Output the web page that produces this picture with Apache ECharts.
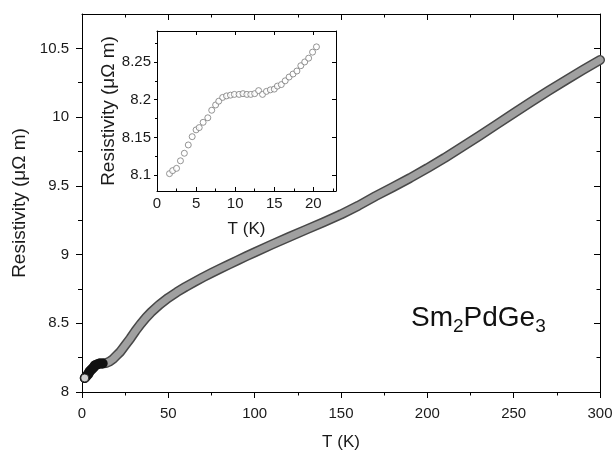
<!DOCTYPE html>
<html>
<head>
<meta charset="utf-8">
<script src="https://cdn.jsdelivr.net/npm/echarts@6/dist/echarts.min.js"></script>
<style>
html,body{margin:0;padding:0;background:#fff;}
#chart{width:616px;height:456px;}
</style>
</head>
<body>
<div id="chart"></div>
<script>
// ---- Data ----
// Main curve: temperature (K) and resistivity (µΩ m)
var mainT = [1.6, 2.5, 3.5, 4.5, 5.5, 6.5, 7.5, 8.5, 10, 12, 14, 16, 18, 20, 22, 25, 28, 31, 34, 37, 40, 45, 50, 55, 60, 65, 70, 75, 80, 85, 90, 95, 100, 110, 120, 130, 140, 150, 160, 170, 180, 190, 200, 210, 220, 230, 240, 250, 260, 270, 280, 290, 300];
var mainR = [8.102, 8.109, 8.129, 8.151, 8.165, 8.176, 8.194, 8.203, 8.207, 8.208, 8.211, 8.222, 8.240, 8.265, 8.29, 8.34, 8.39, 8.445, 8.495, 8.54, 8.58, 8.637, 8.685, 8.727, 8.765, 8.80, 8.834, 8.866, 8.897, 8.927, 8.957, 8.987, 9.016, 9.073, 9.128, 9.182, 9.236, 9.292, 9.355, 9.425, 9.49, 9.557, 9.628, 9.703, 9.782, 9.862, 9.945, 10.028, 10.11, 10.19, 10.267, 10.342, 10.415];
// Inset: low-temperature detail
var insetT = [1.6, 2.0, 2.5, 3.0, 3.5, 4.0, 4.5, 5.0, 5.4, 5.9, 6.5, 7.0, 7.5, 7.9, 8.4, 8.9, 9.4, 9.9, 10.5, 11.0, 11.5, 12.0, 12.5, 13.0, 13.5, 14.0, 14.5, 15.0, 15.4, 15.9, 16.4, 16.9, 17.4, 17.9, 18.4, 18.9, 19.4, 19.9, 20.4];
var insetR = [8.102, 8.106, 8.109, 8.119, 8.129, 8.140, 8.151, 8.160, 8.163, 8.170, 8.176, 8.186, 8.193, 8.198, 8.203, 8.205, 8.206, 8.207, 8.207, 8.208, 8.207, 8.207, 8.208, 8.212, 8.207, 8.211, 8.213, 8.214, 8.218, 8.220, 8.225, 8.230, 8.234, 8.238, 8.245, 8.250, 8.255, 8.263, 8.270];
// Tick labels
var mainXTicks = [0, 50, 100, 150, 200, 250, 300];
var mainYTicks = [8, 8.5, 9, 9.5, 10, 10.5];
var insetXTicks = [0, 5, 10, 15, 20];
var insetYTicks = [8.1, 8.15, 8.2, 8.25];
var xTitle = 'T (K)';
var yTitle = 'Resistivity (\u03bc\u03a9 m)';

// ---- Build ----
function pairs(xs, ys, filt) {
  var out = [];
  for (var i = 0; i < xs.length; i++) {
    if (!filt || filt(xs[i])) out.push([xs[i], ys[i]]);
  }
  return out;
}
var FONT = 'Liberation Sans, Arial, sans-serif';
var TXT = '#1a1a1a';

function axisBase(extra) {
  var base = {
    type: 'value',
    splitLine: {show: false},
    axisLine: {show: true, onZero: false, lineStyle: {color: '#000', width: 1}},
    axisLabel: {fontFamily: FONT, fontSize: 15, color: TXT},
    nameTextStyle: {fontFamily: FONT, fontSize: 17, color: TXT}
  };
  for (var k in extra) base[k] = extra[k];
  return base;
}

var chart = echarts.init(document.getElementById('chart'), null, {renderer: 'canvas'});
var option = {
  animation: false,
  backgroundColor: '#fff',
  grid: [
    {left: 82, right: 16, top: 14, bottom: 63},
    {left: 157, right: 280, top: 31, bottom: 265, show: true, backgroundColor: '#fff', borderWidth: 0, z: 5}
  ],
  xAxis: [
    axisBase({gridIndex: 0, position: 'bottom', min: 0, max: 300, interval: 50,
      axisTick: {show: true, inside: false, length: 6, customValues: mainXTicks, lineStyle: {color: '#000'}},
      minorTick: {show: true, splitNumber: 2, length: 3.5, lineStyle: {color: '#000'}},
      axisLabel: {fontFamily: FONT, fontSize: 15, color: TXT, margin: 14, customValues: mainXTicks},
      name: xTitle, nameLocation: 'middle', nameGap: 42}),
    axisBase({gridIndex: 0, position: 'top', min: 0, max: 300, interval: 50,
      axisTick: {show: true, inside: true, length: 6, customValues: mainXTicks, lineStyle: {color: '#000'}},
      minorTick: {show: true, splitNumber: 2, length: 3.5, lineStyle: {color: '#000'}},
      axisLabel: {show: false}}),
    axisBase({gridIndex: 1, position: 'bottom', min: 0, max: 22.9, interval: 5, z: 6,
      axisTick: {show: true, inside: true, length: 4, customValues: insetXTicks, lineStyle: {color: '#000'}},
      minorTick: {show: true, splitNumber: 2, length: 2.5, lineStyle: {color: '#000'}},
      axisLabel: {fontFamily: FONT, fontSize: 15, color: TXT, margin: 5, customValues: insetXTicks},
      name: xTitle, nameLocation: 'middle', nameGap: 30}),
    axisBase({gridIndex: 1, position: 'top', min: 0, max: 22.9, interval: 5, z: 6,
      axisTick: {show: true, inside: true, length: 4, customValues: insetXTicks, lineStyle: {color: '#000'}},
      minorTick: {show: false},
      axisLabel: {show: false}})
  ],
  yAxis: [
    axisBase({gridIndex: 0, position: 'left', min: 8, max: 10.75, interval: 0.5,
      axisTick: {show: true, inside: false, length: 6, customValues: mainYTicks, lineStyle: {color: '#000'}},
      minorTick: {show: true, splitNumber: 2, length: 4, lineStyle: {color: '#000'}},
      axisLabel: {fontFamily: FONT, fontSize: 15, color: TXT, margin: 13, customValues: mainYTicks},
      name: yTitle, nameLocation: 'middle', nameGap: 52, nameRotate: 90,
      nameTextStyle: {fontFamily: FONT, fontSize: 19, color: TXT}}),
    axisBase({gridIndex: 0, position: 'right', min: 8, max: 10.75, interval: 0.5,
      axisTick: {show: true, inside: true, length: 6, customValues: mainYTicks, lineStyle: {color: '#000'}},
      minorTick: {show: true, splitNumber: 2, length: 3.5, lineStyle: {color: '#000'}},
      axisLabel: {show: false}}),
    axisBase({gridIndex: 1, position: 'left', min: 8.079, max: 8.291, z: 6,
      axisTick: {show: true, inside: false, length: 3, customValues: insetYTicks, lineStyle: {color: '#000'}},
      minorTick: {show: true, splitNumber: 2, length: 2, lineStyle: {color: '#000'}},
      axisLabel: {fontFamily: FONT, fontSize: 15, color: TXT, margin: 6, customValues: insetYTicks},
      name: yTitle, nameLocation: 'middle', nameGap: 38, nameRotate: 90,
      nameTextStyle: {fontFamily: FONT, fontSize: 19, color: TXT}}),
    axisBase({gridIndex: 1, position: 'right', min: 8.079, max: 8.291, z: 6,
      axisTick: {show: true, inside: true, length: 4, customValues: insetYTicks, lineStyle: {color: '#000'}},
      minorTick: {show: false},
      axisLabel: {show: false}})
  ],
  series: [
    {type: 'line', xAxisIndex: 0, yAxisIndex: 0, data: pairs(mainT, mainR), smooth: false,
      symbol: 'none', lineStyle: {color: '#484848', width: 10, cap: 'round', join: 'round'}, z: 2, silent: true},
    {type: 'line', xAxisIndex: 0, yAxisIndex: 0, data: pairs(mainT, mainR), smooth: false,
      symbol: 'none', lineStyle: {color: '#a0a0a0', width: 7, cap: 'round', join: 'round'}, z: 3, silent: true},
    {type: 'line', xAxisIndex: 0, yAxisIndex: 0, data: pairs(mainT, mainR, function (t) { return t <= 12; }), smooth: false,
      symbol: 'none', lineStyle: {color: '#111', width: 10, cap: 'round', join: 'round'}, z: 4, silent: true},
    {type: 'scatter', xAxisIndex: 0, yAxisIndex: 0, data: pairs(mainT, mainR).slice(0, 1), symbol: 'circle', symbolSize: 8,
      itemStyle: {color: '#fff', borderColor: '#111', borderWidth: 1}, z: 5, silent: true},
    {type: 'scatter', xAxisIndex: 2, yAxisIndex: 2, data: pairs(insetT, insetR), symbol: 'circle', symbolSize: 6,
      itemStyle: {color: '#fff', borderColor: '#7a7a7a', borderWidth: 1}, z: 7, silent: true}
  ],
  graphic: [
    {type: 'text', left: 411, top: 304, z: 10,
      style: {text: '{a|Sm}{s|2}{a|PdGe}{s|3}', fill: '#111',
        rich: {
          a: {fontFamily: FONT, fontSize: 28, color: '#111'},
          s: {fontFamily: FONT, fontSize: 19, color: '#111', padding: [18, 0, 0, 0]}
        }}}
  ]
};
chart.setOption(option);
</script>
</body>
</html>
